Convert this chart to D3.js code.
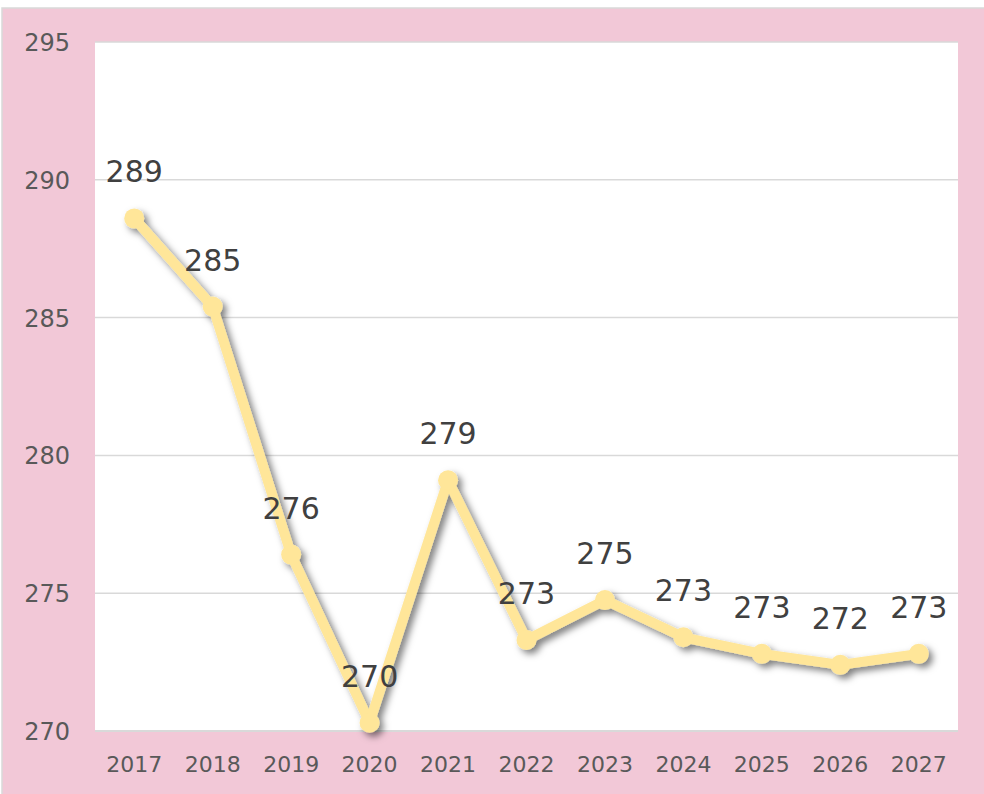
<!DOCTYPE html>
<html lang="en">
<head>
    <meta charset="UTF-8">
    <title>Chart</title>
    <script src="https://cdn.jsdelivr.net/npm/d3@7"></script>
    <style>
        body { margin: 0; background: #fff; }
    </style>
</head>
<body>
<script type="text/javascript">
    var years = ['2017', '2018', '2019', '2020', '2021', '2022', '2023', '2024', '2025', '2026', '2027'];
    var values = [288.6, 285.4, 276.4, 270.3, 279.1, 273.3, 274.75, 273.4, 272.8, 272.4, 272.8];
    var yTicks = [270, 275, 280, 285, 290, 295];

    var W = 984, H = 794;
    var plot = {left: 95, top: 42, right: 958, bottom: 731};

    var svg = d3.select('body').append('svg')
            .attr('width', W)
            .attr('height', H);

    // drop shadow for the line
    var defs = svg.append('defs');
    var f = defs.append('filter').attr('id', 'shadow')
            .attr('x', '-10%').attr('y', '-10%').attr('width', '130%').attr('height', '130%');
    f.append('feDropShadow')
            .attr('dx', 4).attr('dy', 4).attr('stdDeviation', 3.5)
            .attr('flood-color', '#000').attr('flood-opacity', 0.5);

    // background
    svg.append('rect').attr('x', 2).attr('y', 8).attr('width', W).attr('height', H)
            .attr('fill', '#f2c8d7').attr('stroke', '#d9d9d9').attr('stroke-width', 1.5);
    svg.append('rect')
            .attr('x', plot.left).attr('y', plot.top)
            .attr('width', plot.right - plot.left).attr('height', plot.bottom - plot.top)
            .attr('fill', '#fff');

    var x = d3.scaleBand()
            .domain(years)
            .range([plot.left, plot.right]);
    var y = d3.scaleLinear()
            .domain([270, 295])
            .range([plot.bottom, plot.top]);

    // gridlines
    svg.append('g').selectAll('line')
            .data(yTicks)
            .enter()
            .append('line')
            .attr('x1', plot.left).attr('x2', plot.right)
            .attr('y1', function (d) { return y(d); })
            .attr('y2', function (d) { return y(d); })
            .attr('stroke', '#d9d9d9')
            .attr('stroke-width', function (d) { return d === 270 ? 2 : 1.5; });

    // y axis labels
    var yAxis = d3.axisLeft(y).tickValues(yTicks).tickSize(0).tickPadding(0);
    var gy = svg.append('g').attr('transform', 'translate(70,0)').call(yAxis);
    gy.select('.domain').remove();
    gy.selectAll('text')
            .attr('font-family', 'DejaVu Sans, Verdana, sans-serif')
            .attr('font-size', 24)
            .attr('fill', '#595959')
            .attr('dy', '0.35em');

    // x axis labels
    var xAxis = d3.axisBottom(x).tickSize(0).tickPadding(0);
    var gx = svg.append('g').attr('transform', 'translate(0,' + (plot.bottom + 25) + ')').call(xAxis);
    gx.select('.domain').remove();
    gx.selectAll('text')
            .attr('font-family', 'DejaVu Sans, Verdana, sans-serif')
            .attr('font-size', 22)
            .attr('fill', '#595959');

    var cx = function (d, i) { return x(years[i]) + x.bandwidth() / 2; };

    var line = d3.line()
            .x(cx)
            .y(function (d) { return y(d); });

    var g = svg.append('g').attr('filter', 'url(#shadow)');
    g.append('path')
            .datum(values)
            .attr('d', line)
            .attr('fill', 'none')
            .attr('stroke', '#ffe699')
            .attr('stroke-width', 10)
            .attr('stroke-linejoin', 'round');
    g.selectAll('circle')
            .data(values)
            .enter()
            .append('circle')
            .attr('cx', cx)
            .attr('cy', function (d) { return y(d); })
            .attr('r', 10)
            .attr('fill', '#ffe699');

    // data labels
    svg.append('g').selectAll('text')
            .data(values)
            .enter()
            .append('text')
            .attr('x', cx)
            .attr('y', function (d) { return y(d) - 36; })
            .attr('text-anchor', 'middle')
            .attr('font-family', 'DejaVu Sans, Verdana, sans-serif')
            .attr('font-size', 30)
            .attr('fill', '#404040')
            .text(function (d) { return Math.round(d); });
</script>
</body>
</html>
